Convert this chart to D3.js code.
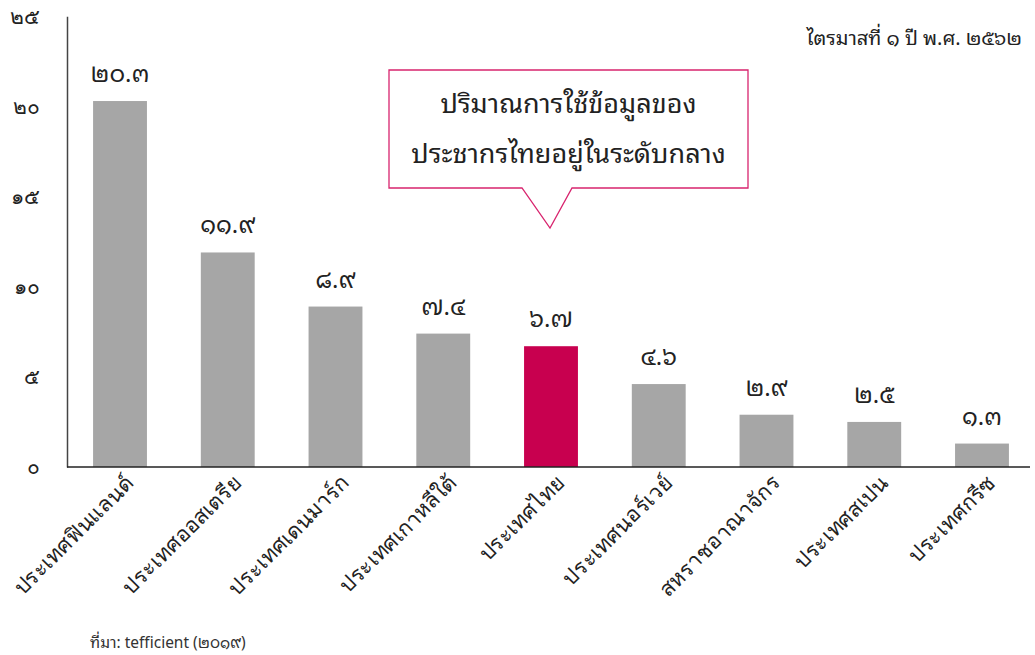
<!DOCTYPE html>
<html><head><meta charset="utf-8">
<script src="https://cdn.jsdelivr.net/npm/d3@7"></script>
<style>
body{margin:0;background:#fff;}
svg{display:block;font-family:"Noto Sans Thai Looped","Leelawadee UI","Tahoma","Loma","Garuda","Sawasdee","Noto Sans Thai","Noto Sans",sans-serif;font-weight:400;}
</style></head>
<body><svg id="c" width="1035" height="655"></svg>
<script>
const categories = ["ประเทศฟินแลนด์","ประเทศออสเตรีย","ประเทศเดนมาร์ก","ประเทศเกาหลีใต้","ประเทศไทย","ประเทศนอร์เวย์","สหราชอาณาจักร","ประเทศสเปน","ประเทศกรีซ"];
const values = [20.3, 11.9, 8.9, 7.4, 6.7, 4.6, 2.9, 2.5, 1.3];
const highlight = "ประเทศไทย";
const yTicks = [0, 5, 10, 15, 20, 25];
const title = "ไตรมาสที่ ๑ ปี พ.ศ. ๒๕๖๒";
const calloutLines = ["ปริมาณการใช้ข้อมูลของ","ประชากรไทยอยู่ในระดับกลาง"];
const source = "ที่มา: tefficient (๒๐๑๙)";

const thaiDigits = "๐๑๒๓๔๕๖๗๘๙";
const toThai = s => String(s).replace(/[0-9]/g, d => thaiDigits[+d]);

const svg = d3.select("#c");
const x0 = 67, x1 = 1035, yBase = 467;
const x = d3.scaleBand().domain(categories).range([x0, x1]).paddingInner(0.5).paddingOuter(0.242);
const y = d3.scaleLinear().domain([0, 25]).range([yBase, 16.3]);

// bars
svg.selectAll("rect.bar").data(categories).join("rect")
  .attr("class","bar")
  .attr("x", d => x(d)).attr("width", x.bandwidth())
  .attr("y", (d,i) => y(values[i])).attr("height", (d,i) => y(0) - y(values[i]))
  .attr("fill", d => d === highlight ? "#c8004f" : "#a6a6a6");

// value labels
svg.selectAll("text.val").data(categories).join("text")
  .attr("class","val")
  .attr("x", d => x(d) + x.bandwidth()/2)
  .attr("y", (d,i) => y(values[i]) - 19)
  .attr("text-anchor","middle").attr("font-size", 24).attr("fill","#222")
  .text((d,i) => toThai(values[i].toFixed(1)));

// y axis
const yAxis = d3.axisLeft(y).tickValues(yTicks).tickSize(0).tickPadding(27).tickFormat(d => toThai(d));
const gy = svg.append("g").attr("transform", `translate(${x0},0)`).call(yAxis);
gy.select(".domain").attr("stroke","#444").attr("stroke-width",1.5);
gy.selectAll("text").attr("font-size",21).attr("fill","#222").attr("font-family","inherit");

// x axis
const xAxis = d3.axisBottom(x).tickSize(0).tickPadding(0);
const gx = svg.append("g").attr("transform", `translate(0,${yBase})`).call(xAxis);
gx.select(".domain").attr("stroke","#222").attr("stroke-width",1.5).attr("d", `M${x0},0H1030`);
gx.selectAll("text")
  .attr("font-size",21.5).attr("fill","#222").attr("font-family","inherit")
  .attr("text-anchor","end").attr("dy", null).attr("y", 0)
  .attr("transform","translate(15,17) rotate(-45)");

// title
svg.append("text").attr("x", 1022).attr("y", 45).attr("text-anchor","end")
  .attr("font-size", 20).attr("fill","#222").text(title);

// callout
const bx0 = 389, bx1 = 748, by0 = 70, by1 = 188;
const tipX = x(highlight) + x.bandwidth()/2 - 1, tipY = 228;
svg.append("path")
  .attr("d", `M${bx0},${by0}H${bx1}V${by1}H572L${tipX},${tipY}L522,${by1}H${bx0}Z`)
  .attr("fill","#fff").attr("stroke","#d8246e").attr("stroke-width",1.3);
svg.selectAll("text.call").data(calloutLines).join("text")
  .attr("class","call")
  .attr("x", (bx0+bx1)/2).attr("y", (d,i) => 113 + i*50)
  .attr("text-anchor","middle").attr("font-size", 27).attr("fill","#222").text(d => d);

// source
svg.append("text").attr("x", 90).attr("y", 648).attr("font-size", 15.5).attr("fill","#333").text(source);
</script></body></html>
